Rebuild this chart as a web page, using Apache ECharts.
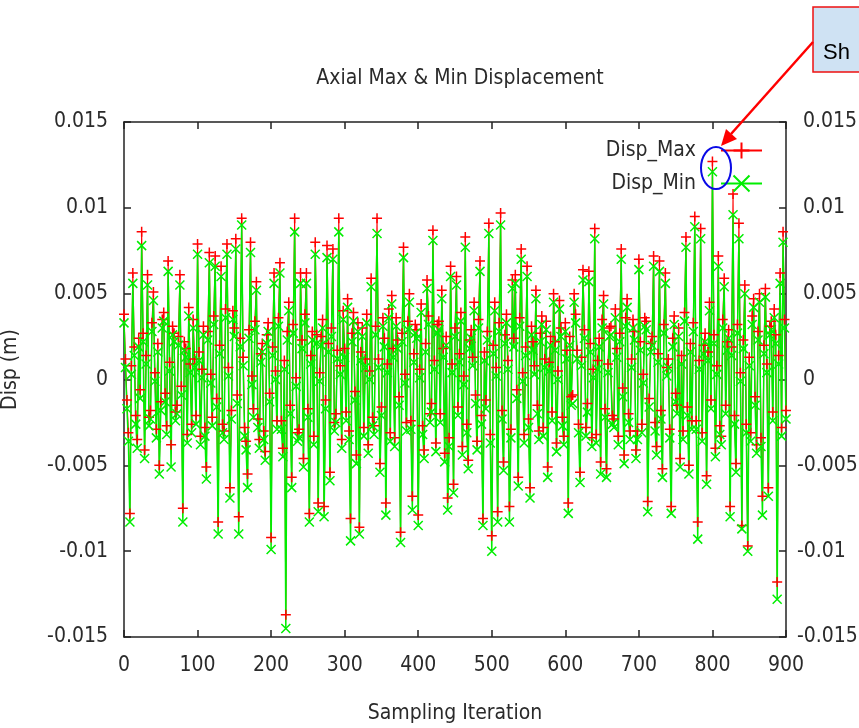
<!DOCTYPE html>
<html lang="en" style="height: 100%">

<head>
    <meta charset="UTF-8">
    <title>Axial Max & Min Displacement</title>
    <script type="text/javascript" src="https://cdn.jsdelivr.net/npm/echarts@6/dist/echarts.min.js"></script>
</head>

<body style="height: 100%; margin: 0; background: #fff">
    <div id="container" style="width: 859px; height: 728px"></div>
    <script type="text/javascript">
    var iterStep = 2;

    var dispMax = [
        0.0038, 0.0012, -0.0012, -0.0031, -0.0078, 0.0008, 0.0062, 0.0019, -0.0021, -0.0035,
        0.0024, -0.0006, 0.0086, 0.0027, -0.0041, 0.0014, 0.0061, -0.0022, -0.0018, 0.0033,
        0.0051, 0.0004, -0.0029, 0.0021, -0.0050, -0.0013, 0.0035, 0.0039, -0.0008, -0.0027,
        0.0069, 0.0010, -0.0038, 0.0031, 0.0027, -0.0019, -0.0015, 0.0025, 0.0061, -0.0004,
        -0.0075, 0.0022, 0.0018, -0.0032, 0.0042, 0.0009, -0.0026, 0.0035, 0.0012, -0.0021,
        0.0079, 0.0016, -0.0033, 0.0006, 0.0031, -0.0028, -0.0051, 0.0028, 0.0074, 0.0003,
        -0.0022, 0.0037, 0.0072, -0.0011, -0.0083, 0.0020, 0.0066, -0.0026, -0.0030, 0.0041,
        0.0079, 0.0007, -0.0063, -0.0018, 0.0040, 0.0030, 0.0082, -0.0009, -0.0080, 0.0024,
        0.0094, 0.0013, -0.0028, -0.0036, -0.0055, 0.0029, 0.0080, 0.0002, -0.0017, 0.0034,
        0.0057, -0.0023, -0.0035, 0.0015, 0.0021, -0.0030, -0.0042, 0.0026, 0.0033, -0.0008,
        -0.0092, 0.0019, 0.0062, 0.0005, -0.0024, 0.0036, 0.0068, -0.0024, -0.0040, 0.0011,
        -0.0137, 0.0028, 0.0045, -0.0015, -0.0057, 0.0032, 0.0094, 0.0001, -0.0031, -0.0029,
        0.0062, 0.0023, -0.0046, 0.0038, 0.0062, -0.0017, -0.0078, 0.0014, 0.0028, -0.0033,
        0.0080, 0.0026, -0.0072, 0.0004, 0.0025, 0.0035, -0.0074, -0.0012, 0.0078, 0.0021,
        -0.0054, 0.0030, 0.0076, -0.0025, -0.0020, 0.0017, 0.0094, 0.0008, -0.0035, 0.0040,
        0.0018, -0.0019, 0.0047, -0.0030, -0.0081, 0.0027, 0.0039, -0.0007, -0.0044, 0.0033,
        -0.0086, 0.0016, 0.0030, -0.0028, 0.0012, 0.0038, -0.0038, 0.0005, 0.0059, -0.0022,
        -0.0027, 0.0031, 0.0094, 0.0012, -0.0049, -0.0016, 0.0036, 0.0024, -0.0072, 0.0009,
        0.0041, -0.0031, 0.0049, 0.0018, -0.0034, 0.0036, 0.0023, -0.0010, -0.0089, 0.0027,
        0.0077, 0.0003, -0.0025, 0.0034, 0.0050, -0.0024, -0.0068, 0.0015, 0.0032, 0.0029,
        -0.0079, 0.0006, 0.0044, -0.0027, -0.0041, 0.0021, 0.0058, 0.0037, -0.0020, -0.0014,
        0.0087, 0.0011, -0.0037, 0.0032, 0.0034, -0.0020, 0.0052, 0.0018, -0.0043, 0.0025,
        -0.0069, -0.0034, 0.0066, 0.0009, -0.0061, 0.0030, 0.0060, -0.0016, 0.0015, 0.0039,
        -0.0039, 0.0002, 0.0083, -0.0026, -0.0047, 0.0023, 0.0029, 0.0013, 0.0045, -0.0009,
        -0.0036, 0.0035, 0.0069, -0.0021, -0.0081, 0.0016, -0.0012, 0.0028, 0.0091, -0.0032,
        -0.0091, 0.0020, 0.0045, 0.0007, -0.0077, 0.0033, 0.0097, -0.0018, -0.0048, 0.0026,
        0.0038, 0.0011, -0.0074, -0.0029, 0.0058, 0.0024, 0.0061, -0.0006, -0.0057, 0.0036,
        0.0076, 0.0004, -0.0032, 0.0019, 0.0066, -0.0023, -0.0063, 0.0031, 0.0022, 0.0008,
        0.0052, -0.0015, -0.0030, 0.0027, 0.0037, -0.0028, 0.0012, 0.0034, -0.0051, 0.0010,
        0.0025, -0.0019, 0.0050, 0.0022, -0.0037, 0.0005, 0.0046, 0.0030, -0.0022, -0.0033,
        0.0033, 0.0017, -0.0072, 0.0025, -0.0010, -0.0009, 0.0050, 0.0038, 0.0017, -0.0026,
        -0.0054, 0.0013, 0.0064, 0.0029, -0.0028, -0.0014, 0.0063, 0.0021, -0.0034, 0.0006,
        0.0088, -0.0032, 0.0011, 0.0024, -0.0048, 0.0035, 0.0049, -0.0017, -0.0052, 0.0009,
        0.0030, 0.0031, -0.0021, -0.0023, 0.0041, 0.0018, -0.0033, 0.0027, 0.0076, -0.0005,
        -0.0044, 0.0036, 0.0047, -0.0020, -0.0030, 0.0012, 0.0035, 0.0028, -0.0041, -0.0030,
        0.0070, 0.0022, -0.0026, 0.0003, 0.0036, 0.0034, -0.0071, -0.0011, 0.0021, 0.0025,
        0.0072, -0.0025, -0.0039, 0.0015, 0.0069, -0.0018, -0.0052, 0.0032, 0.0062, 0.0007,
        0.0012, -0.0029, -0.0074, 0.0024, 0.0037, -0.0008, -0.0015, 0.0030, -0.0046, 0.0014,
        -0.0030, 0.0039, 0.0083, -0.0016, -0.0050, 0.0021, -0.0024, 0.0033, 0.0095, -0.0024,
        -0.0083, 0.0011, 0.0088, -0.0031, 0.0020, 0.0027, -0.0056, 0.0016, 0.0045, -0.0012,
        0.0127, 0.0026, -0.0040, 0.0008, 0.0072, -0.0027, -0.0033, 0.0035, 0.0059, -0.0015,
        0.0022, 0.0029, -0.0074, 0.0019, 0.0108, -0.0021, -0.0049, 0.0032, 0.0091, 0.0004,
        -0.0085, 0.0023, 0.0055, -0.0026, -0.0097, 0.0013, -0.0031, 0.0037, 0.0047, -0.0010,
        -0.0038, 0.0028, 0.0050, -0.0034, -0.0068, 0.0020, 0.0053, 0.0009, -0.0063, 0.0031,
        0.0034, -0.0019, 0.0041, 0.0026, -0.0118, 0.0014, 0.0062, -0.0028, 0.0086, 0.0035,
        -0.0018
    ];

    var dispMin = [
        0.0033, 0.0007, -0.0017, -0.0036, -0.0083, 0.0003, 0.0056, 0.0014, -0.0026, -0.0040,
        0.0019, -0.0011, 0.0078, 0.0022, -0.0046, 0.0009, 0.0055, -0.0027, -0.0023, 0.0028,
        0.0046, -0.0001, -0.0034, 0.0016, -0.0055, -0.0018, 0.0030, 0.0034, -0.0013, -0.0032,
        0.0063, 0.0005, -0.0051, 0.0026, 0.0022, -0.0024, -0.0020, 0.0020, 0.0055, -0.0009,
        -0.0083, 0.0017, 0.0013, -0.0037, 0.0037, 0.0004, -0.0031, 0.0030, 0.0007, -0.0026,
        0.0073, 0.0011, -0.0038, 0.0001, 0.0026, -0.0033, -0.0058, 0.0023, 0.0068, -0.0002,
        -0.0027, 0.0032, 0.0066, -0.0016, -0.0090, 0.0015, 0.0060, -0.0031, -0.0035, 0.0036,
        0.0073, 0.0002, -0.0069, -0.0023, 0.0035, 0.0025, 0.0076, -0.0014, -0.0090, 0.0019,
        0.0090, 0.0008, -0.0033, -0.0041, -0.0063, 0.0024, 0.0074, -0.0003, -0.0022, 0.0029,
        0.0052, -0.0028, -0.0040, 0.0010, 0.0016, -0.0035, -0.0047, 0.0021, 0.0028, -0.0013,
        -0.0099, 0.0014, 0.0056, 0.0000, -0.0029, 0.0031, 0.0062, -0.0029, -0.0045, 0.0006,
        -0.0145, 0.0023, 0.0040, -0.0020, -0.0063, 0.0027, 0.0086, -0.0004, -0.0036, -0.0034,
        0.0056, 0.0018, -0.0051, 0.0033, 0.0056, -0.0022, -0.0083, 0.0009, 0.0023, -0.0038,
        0.0073, 0.0021, -0.0077, -0.0001, 0.0020, 0.0030, -0.0080, -0.0017, 0.0071, 0.0016,
        -0.0059, 0.0025, 0.0070, -0.0030, -0.0025, 0.0012, 0.0086, 0.0003, -0.0040, 0.0035,
        0.0013, -0.0024, 0.0042, -0.0035, -0.0094, 0.0022, 0.0034, -0.0012, -0.0049, 0.0028,
        -0.0090, 0.0011, 0.0025, -0.0033, 0.0007, 0.0033, -0.0043, 0.0000, 0.0054, -0.0027,
        -0.0032, 0.0026, 0.0085, 0.0007, -0.0054, -0.0021, 0.0031, 0.0019, -0.0079, 0.0004,
        0.0036, -0.0036, 0.0044, 0.0013, -0.0039, 0.0031, 0.0018, -0.0015, -0.0095, 0.0022,
        0.0071, -0.0002, -0.0030, 0.0029, 0.0045, -0.0029, -0.0076, 0.0010, 0.0027, 0.0024,
        -0.0085, 0.0001, 0.0039, -0.0032, -0.0046, 0.0016, 0.0053, 0.0032, -0.0025, -0.0019,
        0.0081, 0.0006, -0.0042, 0.0027, 0.0029, -0.0025, 0.0047, 0.0013, -0.0048, 0.0020,
        -0.0076, -0.0039, 0.0060, 0.0004, -0.0066, 0.0025, 0.0055, -0.0021, 0.0010, 0.0034,
        -0.0044, -0.0003, 0.0077, -0.0031, -0.0052, 0.0018, 0.0024, 0.0008, 0.0040, -0.0014,
        -0.0041, 0.0030, 0.0063, -0.0026, -0.0085, 0.0011, -0.0017, 0.0023, 0.0085, -0.0037,
        -0.0100, 0.0015, 0.0040, 0.0002, -0.0083, 0.0028, 0.0090, -0.0023, -0.0053, 0.0021,
        0.0033, 0.0006, -0.0083, -0.0034, 0.0053, 0.0019, 0.0056, -0.0011, -0.0062, 0.0031,
        0.0070, -0.0001, -0.0037, 0.0014, 0.0060, -0.0028, -0.0069, 0.0026, 0.0017, 0.0003,
        0.0047, -0.0020, -0.0035, 0.0022, 0.0032, -0.0033, 0.0007, 0.0029, -0.0057, 0.0005,
        0.0020, -0.0024, 0.0045, 0.0017, -0.0042, 0.0000, 0.0041, 0.0025, -0.0027, -0.0038,
        0.0028, 0.0012, -0.0078, 0.0020, -0.0015, -0.0014, 0.0045, 0.0033, 0.0012, -0.0031,
        -0.0060, 0.0008, 0.0058, 0.0024, -0.0033, -0.0019, 0.0057, 0.0016, -0.0039, 0.0001,
        0.0082, -0.0037, 0.0006, 0.0019, -0.0055, 0.0030, 0.0044, -0.0022, -0.0057, 0.0004,
        0.0025, 0.0026, -0.0026, -0.0028, 0.0036, 0.0013, -0.0038, 0.0022, 0.0070, -0.0010,
        -0.0049, 0.0031, 0.0042, -0.0025, -0.0035, 0.0007, 0.0030, 0.0023, -0.0046, -0.0035,
        0.0064, 0.0017, -0.0031, -0.0002, 0.0031, 0.0029, -0.0077, -0.0016, 0.0016, 0.0020,
        0.0066, -0.0030, -0.0044, 0.0010, 0.0063, -0.0023, -0.0057, 0.0027, 0.0056, 0.0002,
        0.0007, -0.0034, -0.0078, 0.0019, 0.0032, -0.0013, -0.0020, 0.0025, -0.0051, 0.0009,
        -0.0035, 0.0034, 0.0077, -0.0021, -0.0055, 0.0016, -0.0029, 0.0028, 0.0089, -0.0029,
        -0.0093, 0.0006, 0.0082, -0.0036, 0.0015, 0.0022, -0.0061, 0.0011, 0.0040, -0.0017,
        0.0121, 0.0021, -0.0045, 0.0003, 0.0066, -0.0032, -0.0038, 0.0030, 0.0054, -0.0020,
        0.0017, 0.0024, -0.0080, 0.0014, 0.0096, -0.0026, -0.0054, 0.0027, 0.0082, -0.0001,
        -0.0087, 0.0018, 0.0050, -0.0031, -0.0100, 0.0008, -0.0036, 0.0032, 0.0042, -0.0015,
        -0.0043, 0.0023, 0.0045, -0.0039, -0.0079, 0.0015, 0.0048, 0.0004, -0.0068, 0.0026,
        0.0029, -0.0024, 0.0036, 0.0021, -0.0128, 0.0009, 0.0056, -0.0033, 0.0080, 0.0030,
        -0.0023
    ];

    var font = "'DejaVu Sans Condensed', 'Liberation Sans Narrow', 'DejaVu Sans', sans-serif";
    var textColor = '#2a2a2a';
    var frame = { color: '#222', width: 1.5 };

    function toPoints(arr) {
        return arr.map(function(v, i) {
            return [i * iterStep, v];
        });
    }

    function yLabel(v) {
        return String(+v.toFixed(3));
    }

    // right-hand labels: minus sign hangs out to the left, digits line up
    function yLabelRight(v) {
        var s = yLabel(v);
        return s.charAt(0) === '-' ? s : ' ' + s;
    }

    var plusPath = 'path://M0,5L10,5M5,0L5,10';
    var crossPath = 'path://M0,0L10,10M10,0L0,10';

    var myChart = echarts.init(document.getElementById('container'));

    var option = {
        backgroundColor: '#fff',
        animation: false,
        title: {
            text: 'Axial Max & Min Displacement',
            left: 455,
            top: 63,
            textAlign: 'center',
            textStyle: {
                fontFamily: font,
                fontSize: 21,
                fontWeight: 'normal',
                color: textColor
            }
        },
        legend: {
            orient: 'vertical',
            right: 96,
            top: 140,
            align: 'right',
            itemWidth: 41,
            itemHeight: 20,
            itemGap: 12,
            padding: 0,
            textStyle: {
                fontFamily: font,
                fontSize: 21,
                color: textColor,
                padding: [0, 20, 0, 0]
            },
            data: ['Disp_Max', 'Disp_Min']
        },
        grid: {
            left: 124,
            right: 73,
            top: 122,
            bottom: 91,
            containLabel: false,
            outerBoundsMode: 'none'
        },
        xAxis: [{
            type: 'value',
            min: 0,
            max: 900,
            interval: 100,
            position: 'bottom',
            name: 'Sampling Iteration',
            nameLocation: 'middle',
            nameGap: 66,
            nameTextStyle: { fontFamily: font, fontSize: 21, color: textColor },
            axisLine: { show: true, onZero: false, lineStyle: frame },
            axisTick: { inside: true, length: 7, lineStyle: frame },
            axisLabel: { fontFamily: font, fontSize: 21, color: textColor, margin: 18 },
            splitLine: { show: false }
        }, {
            type: 'value',
            min: 0,
            max: 900,
            interval: 100,
            position: 'top',
            axisLine: { show: true, onZero: false, lineStyle: frame },
            axisTick: { inside: true, length: 7, lineStyle: frame },
            axisLabel: { show: false },
            splitLine: { show: false }
        }],
        yAxis: [{
            type: 'value',
            min: -0.015,
            max: 0.015,
            interval: 0.005,
            position: 'left',
            name: 'Disp (m)',
            nameLocation: 'middle',
            nameGap: 103,
            nameTextStyle: { fontFamily: font, fontSize: 21, color: textColor, padding: [0, 0, 0, 20] },
            axisLine: { show: true, onZero: false, lineStyle: frame },
            axisTick: { inside: true, length: 7, lineStyle: frame },
            axisLabel: { fontFamily: font, fontSize: 21, color: textColor, margin: 16, formatter: yLabel },
            splitLine: { show: false }
        }, {
            type: 'value',
            min: -0.015,
            max: 0.015,
            interval: 0.005,
            position: 'right',
            axisLine: { show: true, onZero: false, lineStyle: frame },
            axisTick: { inside: true, length: 7, lineStyle: frame },
            axisLabel: { fontFamily: font, fontSize: 21, color: textColor, margin: 11, formatter: yLabelRight },
            splitLine: { show: false }
        }],
        series: [{
            name: 'Disp_Max',
            type: 'line',
            data: toPoints(dispMax),
            symbol: plusPath,
            symbolSize: 10,
            showAllSymbol: true,
            lineStyle: { color: '#ff0000', width: 1.1 },
            itemStyle: { color: '#ff0000', borderColor: '#ff0000', borderWidth: 1.5 }
        }, {
            name: 'Disp_Min',
            type: 'line',
            data: toPoints(dispMin),
            symbol: crossPath,
            symbolSize: 9,
            showAllSymbol: true,
            lineStyle: { color: '#00ee00', width: 1.5 },
            itemStyle: { color: '#00ee00', borderColor: '#00ee00', borderWidth: 1.5 }
        }],
        graphic: [{
            type: 'rect',
            shape: { x: 813, y: 7, width: 60, height: 65 },
            style: { fill: '#cfe2f3', stroke: '#ee1111', lineWidth: 1.5 },
            z: 100
        }, {
            type: 'text',
            x: 823,
            y: 42,
            style: {
                text: 'Sh',
                fontFamily: "'Liberation Sans', Arial, sans-serif",
                fontSize: 22,
                fill: '#000'
            },
            z: 101
        }, {
            type: 'line',
            shape: { x1: 813, y1: 42, x2: 731, y2: 134 },
            style: { stroke: '#ff0000', lineWidth: 2.5 },
            z: 100
        }, {
            type: 'polygon',
            shape: { points: [[721, 146], [737, 139], [726, 129]] },
            style: { fill: '#ff0000' },
            z: 100
        }, {
            type: 'ellipse',
            shape: { cx: 716, cy: 168, rx: 15, ry: 21 },
            style: { fill: 'none', stroke: '#0a0ae6', lineWidth: 2 },
            z: 100
        }]
    };

    myChart.setOption(option);
    </script>
</body>

</html>
